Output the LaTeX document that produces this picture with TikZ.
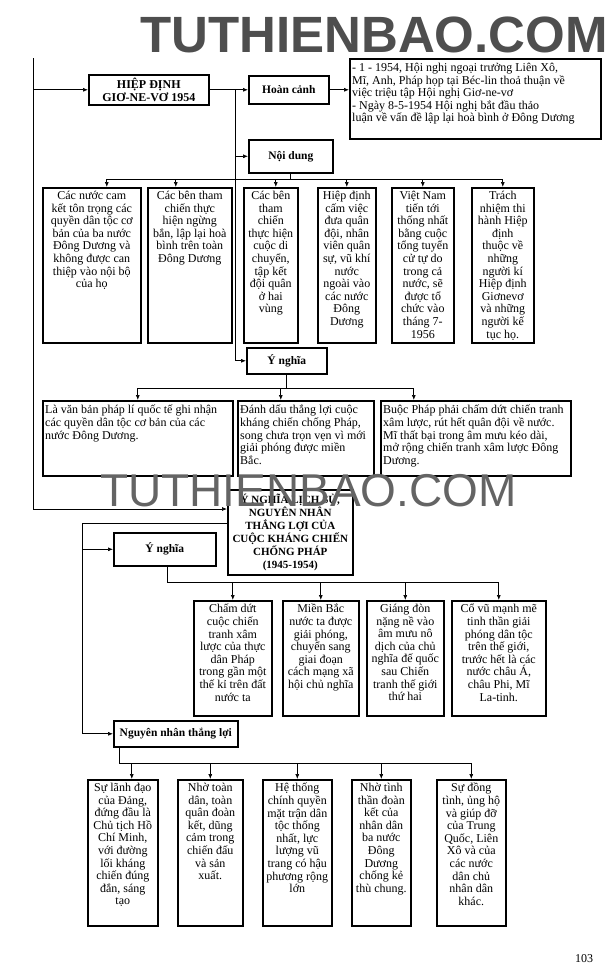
\documentclass[tikz,border=0pt]{standalone}
\usepackage{fontspec}
\setmainfont{Liberation Serif}
\newfontfamily\wmfont{Liberation Sans}
\usetikzlibrary{arrows.meta}
\definecolor{wmdark}{RGB}{78,78,78}
\definecolor{wmmid}{RGB}{100,100,100}
\tikzset{
  bx/.style={draw, line width=1.6pt, inner sep=0pt, anchor=north west},
  lbl/.style={anchor=north, align=center, draw=none, inner sep=0pt, minimum width=0pt, minimum height=0pt,
    font=\fontsize{12}{12.6}\selectfont, yshift=-4pt},
  lbll/.style={anchor=north west, align=left, draw=none, inner sep=0pt, minimum width=0pt, minimum height=0pt,
    font=\fontsize{12}{12.6}\selectfont, xshift=3pt, yshift=-5pt},
  hd/.style={font=\bfseries\fontsize{11.5}{13}\selectfont, align=center},
  ln/.style={line width=0.7pt},
  arr/.style={line width=0.7pt, -{Latex[length=5pt,width=4pt]}}
}
\newcommand\cbox[6]{\node[bx, minimum width=#4pt, minimum height=#5pt, label={[lbl]north:{#6}}] (#1) at (#2,#3) {};}
\newcommand\lbox[6]{\node[bx, minimum width=#4pt, minimum height=#5pt, label={[lbll]north west:{#6}}] (#1) at (#2,#3) {};}
\begin{document}
\begin{tikzpicture}[x=1pt,y=-1pt]
\useasboundingbox (0,0) rectangle (615,980);
\fill[white] (0,0) rectangle (615,980);

% headers
\node[bx, hd, font=\bfseries\fontsize{12}{13}\selectfont, minimum width=120pt, minimum height=30pt] (hiep) at (88,74) {HIỆP ĐỊNH\\GIƠ-NE-VƠ 1954};
\node[bx, hd, minimum width=80pt, minimum height=28pt] (hoancanh) at (248,75) {Hoàn cảnh};
\lbox{hctext}{349}{58}{251}{80}{- 1 - 1954, Hội nghị ngoại trưởng Liên Xô,\\Mĩ, Anh, Pháp họp tại Béc-lin thoả thuận về\\việc triệu tập Hội nghị Giơ-ne-vơ\\- Ngày 8-5-1954 Hội nghị bắt đầu thảo\\luận về vấn đề lập lại hoà bình ở Đông Dương}
\node[bx, hd, minimum width=84pt, minimum height=33pt] (noidung) at (248,139) {Nội dung};

% Noi dung boxes
\cbox{nd1}{42}{187}{98}{155}{Các nước cam\\kết tôn trọng các\\quyền dân tộc cơ\\bản của ba nước\\Đông Dương và\\không được can\\thiệp vào nội bộ\\của họ}
\cbox{nd2}{147}{187}{84}{155}{Các bên tham\\chiến thực\\hiện ngừng\\bắn, lập lại hoà\\bình trên toàn\\Đông Dương}
\cbox{nd3}{243}{187}{54}{155}{Các bên\\tham\\chiến\\thực hiện\\cuộc di\\chuyển,\\tập kết\\đội quân\\ở hai\\vùng}
\cbox{nd4}{317}{187}{58}{155}{Hiệp định\\cấm việc\\đưa quân\\đội, nhân\\viên quân\\sự, vũ khí\\nước\\ngoài vào\\các nước\\Đông\\Dương}
\cbox{nd5}{391}{187}{62}{155}{Việt Nam\\tiến tới\\thống nhất\\bằng cuộc\\tổng tuyển\\cử tự do\\trong cả\\nước, sẽ\\được tổ\\chức vào\\tháng 7-\\1956}
\cbox{nd6}{471}{187}{62}{155}{Trách\\nhiệm thi\\hành Hiệp\\định\\thuộc về\\những\\người kí\\Hiệp định\\Giơnevơ\\và những\\người kế\\tục họ.}

% Y nghia 1
\node[bx, hd, minimum width=80pt, minimum height=26pt] (yn1) at (246,347) {Ý nghĩa};
\lbox{ynA}{42}{400}{190}{75}{Là văn bản pháp lí quốc tế ghi nhận\\các quyền dân tộc cơ bản của các\\nước Đông Dương.}
\lbox{ynB}{237}{400}{136}{75}{Đánh dấu thắng lợi cuộc\\kháng chiến chống Pháp,\\song chưa trọn vẹn vì mới\\giải phóng được miền\\Bắc.}
\lbox{ynC}{380}{400}{190}{75}{Buộc Pháp phải chấm dứt chiến tranh\\xâm lược, rút hết quân đội về nước.\\Mĩ thất bại trong âm mưu kéo dài,\\mở rộng chiến tranh xâm lược Đông\\Dương.}

% central
\node[bx, hd, font=\bfseries\fontsize{11}{13}\selectfont, minimum width=125pt, minimum height=85pt] (central) at (227,489) {Ý NGHĨA LỊCH SỬ,\\NGUYÊN NHÂN\\THẮNG LỢI CỦA\\CUỘC KHÁNG CHIẾN\\CHỐNG PHÁP\\(1945-1954)};

% Y nghia 2
\node[bx, hd, minimum width=102pt, minimum height=33pt] (yn2) at (113,532) {Ý nghĩa};
\cbox{m1}{193}{600}{78}{115}{Chấm dứt\\cuộc chiến\\tranh xâm\\lược của thực\\dân Pháp\\trong gần một\\thế kỉ trên đất\\nước ta}
\cbox{m2}{282}{600}{76}{115}{Miền Bắc\\nước ta được\\giải phóng,\\chuyển sang\\giai đoạn\\cách mạng xã\\hội chủ nghĩa}
\cbox{m3}{366}{600}{77}{115}{Giáng đòn\\nặng nề vào\\âm mưu nô\\dịch của chủ\\nghĩa đế quốc\\sau Chiến\\tranh thế giới\\thứ hai}
\cbox{m4}{451}{600}{94}{115}{Cổ vũ mạnh mẽ\\tinh thần giải\\phóng dân tộc\\trên thế giới,\\trước hết là các\\nước châu Á,\\châu Phi, Mĩ\\La-tinh.}

% Nguyen nhan
\node[bx, hd, minimum width=124pt, minimum height=26pt] (nn) at (113,720) {Nguyên nhân thắng lợi};
\cbox{c1}{87}{779}{70}{146}{Sự lãnh đạo\\của Đảng,\\đứng đầu là\\Chủ tịch Hồ\\Chí Minh,\\với đường\\lối kháng\\chiến đúng\\đắn, sáng\\tạo}
\cbox{c2}{177}{779}{65}{146}{Nhờ toàn\\dân, toàn\\quân đoàn\\kết, dũng\\cảm trong\\chiến đấu\\và sản\\xuất.}
\cbox{c3}{262}{779}{69}{146}{Hệ thống\\chính quyền\\mặt trận dân\\tộc thống\\nhất, lực\\lượng vũ\\trang có hậu\\phương rộng\\lớn}
\cbox{c4}{351}{779}{59}{146}{Nhờ tình\\thần đoàn\\kết của\\nhân dân\\ba nước\\Đông\\Dương\\chống kẻ\\thù chung.}
\cbox{c5}{436}{779}{69}{146}{Sự đồng\\tình, ủng hộ\\và giúp đỡ\\của Trung\\Quốc, Liên\\Xô và của\\các nước\\dân chủ\\nhân dân\\khác.}

% spine 1 (left)
\coordinate (s1top) at (33,58);
\coordinate (s1bot) at (33,509);
\draw[arr] (s1top) -- (s1bot) -- (s1bot -| central.west);
\draw[arr] (s1top |- hiep.west) -- (hiep.west);

% spine 2
\coordinate (j1) at (235,0);
\draw[arr] (hiep.east) -- (hoancanh.west);
\draw[arr] (j1 |- hiep.east) -- (j1 |- yn1.west) -- (yn1.west);
\draw[arr] (j1 |- noidung.west) -- (noidung.west);
\draw[arr] (hoancanh.east) -- (hoancanh.east -| hctext.west);

% noi dung bus
\coordinate (ndbus) at (0,179);
\coordinate (a1) at ([xshift=15pt]nd1.north);
\coordinate (a2) at ([xshift=-14pt]nd2.north);
\coordinate (a3) at ([xshift=5pt]nd3.north);
\draw[ln] (noidung.south) -- (noidung.south |- ndbus);
\draw[ln] (a1 |- ndbus) -- (nd6.north |- ndbus);
\foreach \t in {a1,a2,a3,nd4.north,nd5.north,nd6.north} \draw[arr] (\t |- ndbus) -- (\t);

% y nghia 1 bus
\coordinate (ybus) at (0,388);
\coordinate (b2) at ([xshift=-25pt]ynB.north);
\coordinate (b3) at ([xshift=-62pt]ynC.north);
\draw[ln] (yn1.south) -- (yn1.south |- ybus);
\draw[ln] (ynA.north |- ybus) -- (b3 |- ybus);
\foreach \t in {ynA.north,b2,b3} \draw[arr] (\t |- ybus) -- (\t);

% spine 3
\coordinate (s3) at (82,523);
\draw[arr] (s3 -| central.west) -- (s3) -- (s3 |- nn.west) -- (nn.west);
\draw[arr] (s3 |- yn2.west) -- (yn2.west);

% y nghia 2 bus
\coordinate (mbus) at (0,582);
\coordinate (m0) at ([xshift=3pt]yn2.south);
\draw[ln] (m0) -- (m0 |- mbus) -- (m4.north |- mbus);
\foreach \t in {m1,m2,m3,m4} \draw[arr] (\t.north |- mbus) -- (\t.north);

% nguyen nhan bus
\coordinate (cbus) at (0,763);
\coordinate (n0) at ([xshift=6pt]nn.south west);
\coordinate (k1) at ([xshift=9pt]c1.north);
\draw[ln] (n0) -- (n0 |- cbus) -- (c5.north |- cbus);
\foreach \t in {k1,c2.north,c3.north,c4.north,c5.north} \draw[arr] (\t |- cbus) -- (\t);

% watermarks and page number
\node[anchor=base west, inner sep=0pt, text=wmdark, font=\wmfont\bfseries\fontsize{51}{51}\selectfont] (wm1) at (140,52) {TUTHIENBAO.COM};
\node[anchor=base west, inner sep=0pt, text=wmmid, font=\wmfont\fontsize{46}{46}\selectfont] (wm2) at (100,506) {TUTHIENBAO.COM};
\node[anchor=base, inner sep=0pt, font=\fontsize{12}{12}\selectfont] (pg) at (584,962) {103};
\end{tikzpicture}
\end{document}
